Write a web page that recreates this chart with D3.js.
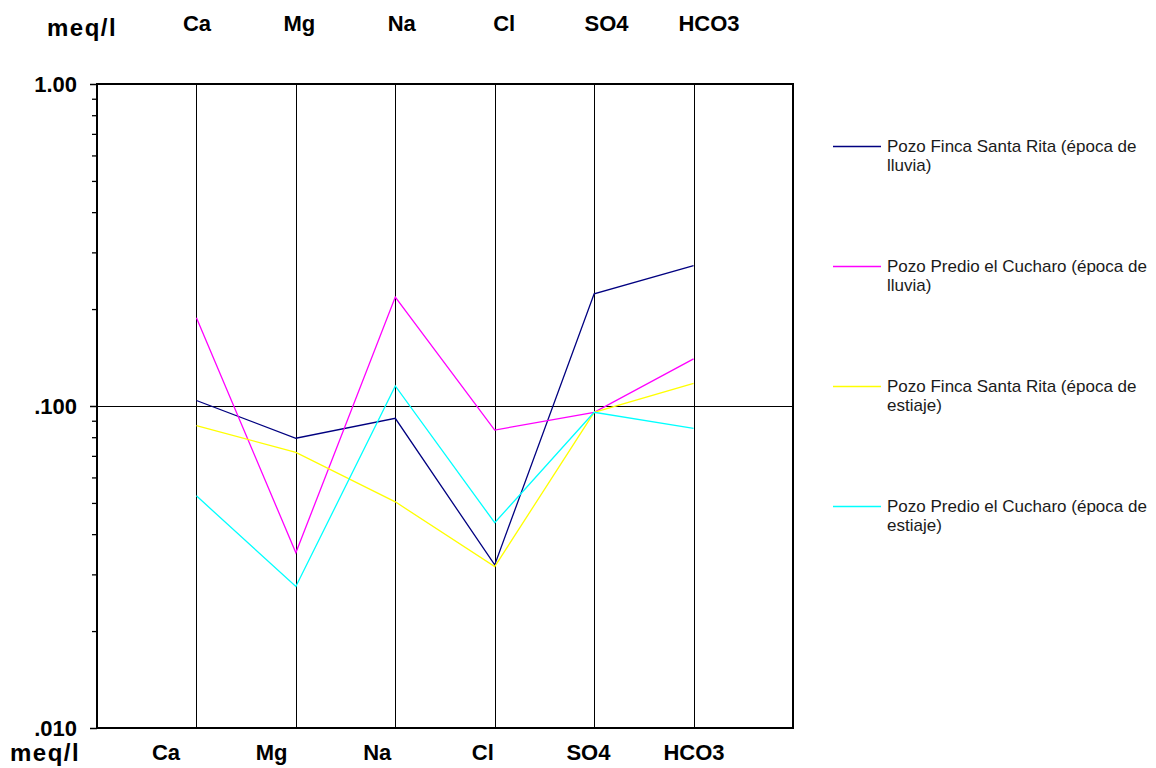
<!DOCTYPE html>
<html lang="es">
<head>
<meta charset="UTF-8">
<title>Diagrama de Schoeller</title>
<style>
body { margin: 0; background: #fff; }
text { font-family: Arial, "Liberation Sans", sans-serif; }
.ion { font-weight: bold; font-size: 22px; fill: #000; }
.unit { font-weight: bold; font-size: 24px; fill: #000; letter-spacing: 1.5px; }
.axis--y text { font-weight: bold; font-size: 22px; fill: #000; }
.axis--y .domain { display: none; }
.legend text { font-size: 17px; fill: #1a1a1a; }
</style>
</head>
<body>
<svg width="1156" height="768"></svg>
<script src="https://cdn.jsdelivr.net/npm/d3@7"></script>
<script>

// ions (columns of the diagram)
const ions = ['Ca', 'Mg', 'Na', 'Cl', 'SO4', 'HCO3'];

// meq/l
const fincaLluvia    = [0.104, 0.0794, 0.0916, 0.0321, 0.223, 0.273];
const cucharoLluvia  = [0.188, 0.0350, 0.218, 0.0842, 0.0956, 0.140];
const fincaEstiaje   = [0.0869, 0.0718, 0.0504, 0.0317, 0.0956, 0.1176];
const cucharoEstiaje = [0.0526, 0.0275, 0.1154, 0.0434, 0.0956, 0.0852];

const seriesNames = [
    ['Pozo Finca Santa Rita (época de', 'lluvia)'],
    ['Pozo Predio el Cucharo (época de', 'lluvia)'],
    ['Pozo Finca Santa Rita (época de', 'estiaje)'],
    ['Pozo Predio el Cucharo (época de', 'estiaje)']
];
const seriesColors = ['#000080', '#ff00ff', '#ffff00', '#00ffff'];

const majorTicks = [1, 0.1, 0.01];
const majorLabels = ['1.00', '.100', '.010'];
const minorTicks = [0.9, 0.8, 0.7, 0.6, 0.5, 0.4, 0.3, 0.2,
                    0.09, 0.08, 0.07, 0.06, 0.05, 0.04, 0.03, 0.02];

const series = [fincaLluvia, cucharoLluvia, fincaEstiaje, cucharoEstiaje].map((vals, i) => ({
    name: seriesNames[i],
    color: seriesColors[i],
    values: vals.map((v, j) => ({ ion: ions[j], value: v }))
}));

var svg = d3.select('svg');

var plot = { left: 97, right: 793, top: 84, bottom: 728 };

var x = d3.scalePoint().domain(ions).range([plot.left, plot.right]).padding(1);
var y = d3.scaleLog().domain([1, 0.01]).range([plot.top, plot.bottom]);

// ion labels sit a little off the columns, as in the original
var xTop = d3.scalePoint().domain(ions).range([197, 709]);
var xBottom = d3.scalePoint().domain(ions).range([166, 694]);

/*------------------------------------*\
  GRID
\*------------------------------------*/
svg.append('g')
    .selectAll('line')
    .data(ions)
    .join('line')
    .attr('x1', d => Math.round(x(d)) + 0.5)
    .attr('x2', d => Math.round(x(d)) + 0.5)
    .attr('y1', plot.top)
    .attr('y2', plot.bottom)
    .attr('stroke', '#000')
    .attr('stroke-width', 1);

svg.append('line')
    .attr('x1', plot.left)
    .attr('x2', plot.right)
    .attr('y1', Math.round(y(0.1)) + 0.5)
    .attr('y2', Math.round(y(0.1)) + 0.5)
    .attr('stroke', '#000')
    .attr('stroke-width', 1);

/*------------------------------------*\
  AXIS
\*------------------------------------*/
svg.append('g')
    .attr('class', 'axis axis--y')
    .attr('transform', `translate(${plot.left},0)`)
    .call(d3.axisLeft(y).tickValues(minorTicks).tickSize(5).tickFormat(''))
    .call(g => g.selectAll('.tick line').attr('stroke', '#000').attr('stroke-width', 1.3));

svg.append('g')
    .attr('class', 'axis axis--y')
    .attr('transform', `translate(${plot.left},0)`)
    .call(d3.axisLeft(y).tickValues(majorTicks).tickSize(7).tickPadding(13)
        .tickFormat((d, i) => majorLabels[i]))
    .call(g => g.selectAll('.tick line').attr('stroke', '#000').attr('stroke-width', 1.5))
    .call(g => g.selectAll('.tick text').attr('dy', '0.36em'));

// frame
svg.append('rect')
    .attr('x', plot.left)
    .attr('y', plot.top)
    .attr('width', plot.right - plot.left)
    .attr('height', plot.bottom - plot.top)
    .attr('fill', 'none')
    .attr('stroke', '#000')
    .attr('stroke-width', 2);

/*------------------------------------*\
  LINES
\*------------------------------------*/
var line = d3.line()
    .x(d => x(d.ion))
    .y(d => y(d.value));

svg.append('g')
    .selectAll('path')
    .data(series)
    .join('path')
    .attr('d', d => line(d.values))
    .attr('fill', 'none')
    .attr('stroke', d => d.color)
    .attr('stroke-width', 1.3);

/*------------------------------------*\
  LABELS
\*------------------------------------*/
svg.append('g')
    .selectAll('text')
    .data(ions)
    .join('text')
    .attr('class', 'ion')
    .attr('x', d => xTop(d))
    .attr('y', 31)
    .attr('text-anchor', 'middle')
    .text(d => d);

svg.append('g')
    .selectAll('text')
    .data(ions)
    .join('text')
    .attr('class', 'ion')
    .attr('x', d => xBottom(d))
    .attr('y', 760)
    .attr('text-anchor', 'middle')
    .text(d => d);

svg.append('text').attr('class', 'unit').attr('x', 47).attr('y', 36).text('meq/l');
svg.append('text').attr('class', 'unit').attr('x', 10).attr('y', 761).text('meq/l');

/*------------------------------------*\
  LEGEND
\*------------------------------------*/
var legendY = d3.scalePoint().domain(d3.range(series.length)).range([146, 506]);

var item = svg.append('g')
    .attr('class', 'legend')
    .selectAll('g')
    .data(series)
    .join('g')
    .attr('transform', (d, i) => `translate(833,${legendY(i)})`);

item.append('line')
    .attr('x1', 0)
    .attr('x2', 48)
    .attr('y1', 0.5)
    .attr('y2', 0.5)
    .attr('stroke', d => d.color)
    .attr('stroke-width', 1.3);

item.append('text')
    .attr('x', 54)
    .attr('y', 5.5)
    .selectAll('tspan')
    .data(d => d.name)
    .join('tspan')
    .attr('x', 54)
    .attr('dy', (d, i) => i ? 19 : 0)
    .text(d => d);

</script>
</body>
</html>
